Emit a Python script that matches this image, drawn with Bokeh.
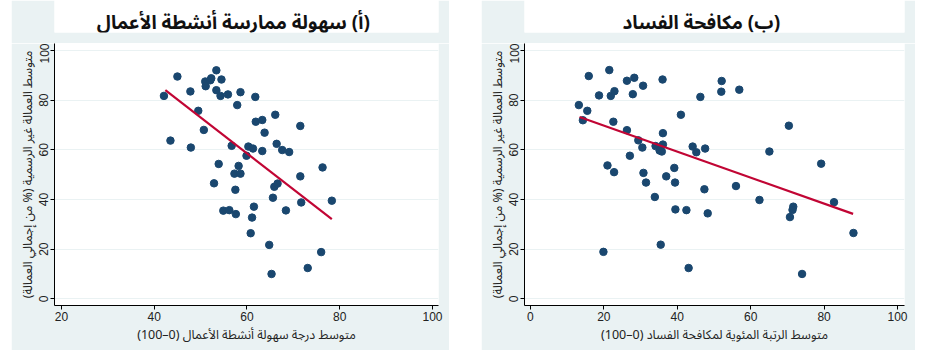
from bokeh.plotting import figure
from bokeh.layouts import row, column
from bokeh.models import Range1d, FixedTicker, Spacer, Label
from bokeh.embed import file_html
from bokeh.resources import INLINE

RLE, PDF = "\u202b", "\u202c"

# ---- data: panel (a) ease of doing business ----
A_x = [42.1, 45.0, 43.5, 47.8, 47.9, 49.5, 50.7, 51.0, 51.1, 52.1, 52.3, 53.4, 53.4, 54.3,
       54.5, 55.9, 53.9, 56.7, 57.9, 58.2, 58.6, 61.8, 60.3, 61.3, 59.9, 61.9, 63.3, 63.8,
       63.3, 66.1, 66.4, 67.6, 69.1, 71.5, 76.3, 71.5, 57.3, 58.6, 52.9, 57.5, 54.9, 56.2,
       57.6, 61.5, 61.1, 60.8, 64.8, 65.3, 65.6, 65.9, 66.6, 68.4, 71.7, 76.0, 73.1, 78.3]
A_y = [81.7, 89.5, 63.7, 83.5, 60.9, 75.7, 68.0, 87.5, 85.6, 88.0, 88.8, 92.0, 84.0, 81.7,
       88.3, 82.3, 54.3, 61.6, 78.0, 53.5, 83.2, 81.3, 61.3, 60.5, 57.6, 71.3, 72.0, 66.9,
       59.5, 74.1, 62.4, 59.9, 59.1, 69.6, 52.9, 49.3, 50.4, 50.4, 46.5, 43.9, 35.5, 35.7,
       34.1, 37.1, 32.7, 26.4, 21.7, 10.0, 40.7, 45.1, 46.4, 35.6, 38.8, 18.8, 12.4, 39.5]
A_fit_x = [42.4, 78.3]
A_fit_y = [84.0, 32.1]

# ---- data: panel (b) control of corruption ----
B_x = [13.2, 14.3, 15.5, 15.9, 18.7, 21.5, 21.9, 22.9, 22.6, 26.3, 28.3, 27.9, 30.7, 26.3,
       29.4, 30.5, 27.1, 21.0, 22.8, 30.8, 36.0, 36.1, 36.1, 34.1, 35.2, 35.8, 39.2, 37.0,
       41.0, 46.3, 44.2, 45.2, 47.6, 52.1, 52.0, 56.9, 65.1, 70.4, 79.2, 31.5, 39.4, 33.9,
       39.5, 42.5, 48.3, 47.4, 56.0, 62.4, 71.6, 71.4, 70.7, 82.7, 88.0, 74.0, 19.9, 35.5, 43.1]
B_y = [78.0, 71.9, 75.7, 89.7, 81.9, 92.1, 81.7, 83.6, 71.3, 87.8, 89.0, 82.4, 85.8, 67.9,
       63.8, 60.9, 57.6, 53.7, 51.0, 50.7, 88.3, 66.7, 62.1, 61.5, 59.7, 59.3, 52.7, 49.3,
       74.1, 81.3, 61.3, 59.0, 60.5, 87.7, 83.4, 84.2, 59.3, 69.7, 54.4, 46.8, 46.8, 41.0,
       36.0, 35.7, 34.4, 44.1, 45.4, 39.8, 37.1, 35.8, 32.9, 38.9, 26.5, 10.0, 18.9, 21.8, 12.4]
B_fit_x = [13.4, 87.9]
B_fit_y = [73.2, 34.2]

A_xticks = [20, 40, 60, 80, 100]
B_xticks = [0, 20, 40, 60, 80, 100]
y_ticks = [0, 20, 40, 60, 80, 100]

title_A = "(أ) سهولة ممارسة أنشطة الأعمال"
title_B = "(ب) مكافحة الفساد"
ylab = "متوسط العمالة غير الرسمية (% من إجمالي العمالة)"
xlab_A = "متوسط درجة سهولة أنشطة الأعمال (0–100)"
xlab_B = "متوسط الرتبة المئوية لمكافحة الفساد (0–100)"

AR_FONT = "Noto Sans Arabic, Noto Sans, DejaVu Sans"
NUM_FONT = "Liberation Sans"
BG = "#eaf2f3"
DOT = "#1a476f"
LINE = "#c10534"


def rtl(s):
    return RLE + s + PDF


def title_fig(w, text):
    t = figure(width=w, height=43, x_range=Range1d(0, w), y_range=Range1d(0, 1),
               x_axis_location=None, y_axis_location=None,
               toolbar_location=None, output_backend="svg", min_border=0,
               min_border_bottom=11, border_fill_color=BG, background_fill_color="white")
    t.grid.visible = False
    t.outline_line_color = None
    t.add_layout(Label(x=w / 2 - 15, y=0.31, text=rtl(text), text_align="center",
                       text_baseline="middle", text_font=AR_FONT, text_font_size="19px",
                       text_font_style="bold", text_color="#111111"))
    return t


def panel(w, xs, ys, fx, fy, xr, xticks, xlab):
    p = figure(width=w, height=307, x_range=Range1d(*xr), y_range=Range1d(-2.7, 102.8),
               toolbar_location=None, output_backend="svg",
               min_border_left=43, min_border_right=11, min_border_top=0,
               min_border_bottom=44, border_fill_color=BG, background_fill_color="white")
    p.outline_line_color = None
    p.xgrid.visible = False
    p.ygrid.grid_line_color = BG
    p.ygrid.grid_line_width = 1
    p.ygrid.ticker = FixedTicker(ticks=y_ticks)
    p.xaxis.ticker = FixedTicker(ticks=xticks)
    p.yaxis.ticker = FixedTicker(ticks=y_ticks)
    for ax in (p.xaxis[0], p.yaxis[0]):
        ax.axis_line_color = "black"
        ax.major_tick_line_color = "black"
        ax.major_tick_out = 4
        ax.major_tick_in = 0
        ax.minor_tick_line_color = None
        ax.major_label_text_font = NUM_FONT
        ax.major_label_text_font_size = "12px"
        ax.major_label_text_color = "#222222"
        ax.axis_label_text_font = AR_FONT
        ax.axis_label_text_font_size = "12.5px"
        ax.axis_label_text_font_style = "normal"
        ax.axis_label_text_color = "#222222"
    p.yaxis.major_label_orientation = "vertical"
    p.yaxis.major_label_standoff = 2
    p.xaxis.major_label_standoff = 2
    p.xaxis.axis_label = rtl(xlab)
    p.yaxis.axis_label = rtl(ylab)
    p.xaxis.axis_label_standoff = -2
    p.yaxis.axis_label_standoff = -4
    p.scatter(xs, ys, size=7.5, fill_color=DOT, line_color=DOT)
    p.line(fx, fy, line_color=LINE, line_width=2.2)
    return p


pA = panel(438, A_x, A_y, A_fit_x, A_fit_y, (18.5, 101.3), A_xticks, xlab_A)
pB = panel(434, B_x, B_y, B_fit_x, B_fit_y, (-1.6, 101.9), B_xticks, xlab_B)
tA = title_fig(438, title_A)
tB = title_fig(434, title_B)

layout = row(Spacer(width=11), column(tA, pA, spacing=0), Spacer(width=32),
             column(tB, pB, spacing=0), spacing=0)

open("out.html", "w").write(file_html(layout, INLINE))
